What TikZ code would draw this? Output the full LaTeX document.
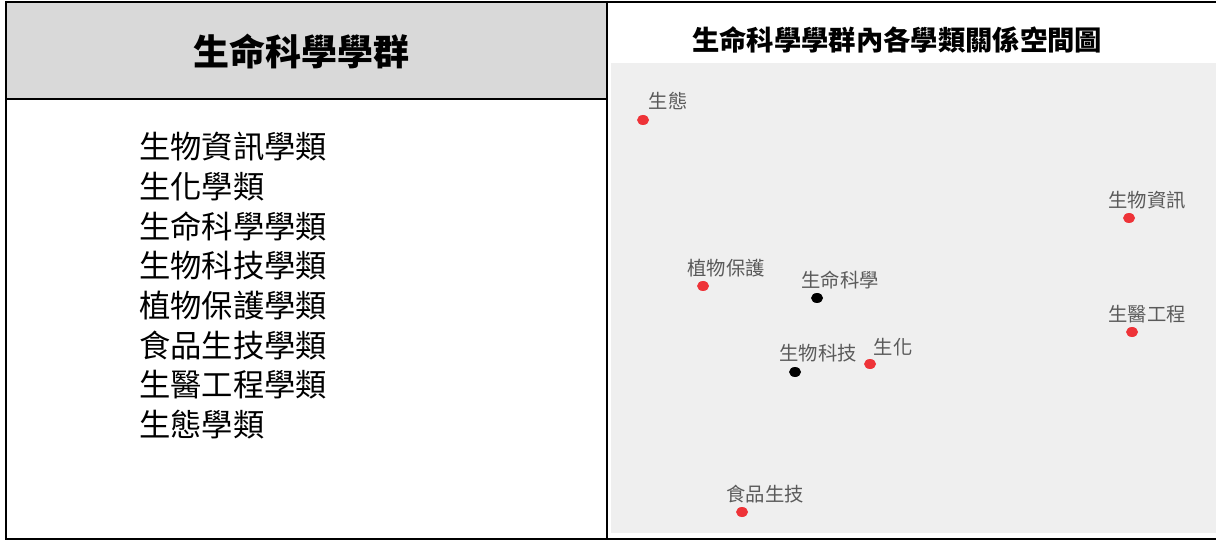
\documentclass[tikz,border=0pt]{standalone}
\usepackage{fontspec}
\newfontfamily\cjk{Noto Sans CJK TC}
\definecolor{hdrgray}{HTML}{D9D9D9}
\definecolor{plotgray}{HTML}{EFEFEF}
\definecolor{dotred}{HTML}{EE3338}
\definecolor{lblgray}{HTML}{5A5A5A}
\tikzset{
  reddot/.style={ellipse, fill=dotred, inner sep=0pt, minimum width=9pt, minimum height=7.5pt},
  blackdot/.style={reddot, fill=black},
  lbl/.style={font=\cjk\fontsize{14.5}{16}\selectfont, text=lblgray, inner sep=0pt},
  listitem/.style={font=\cjk\fontsize{23.5}{26}\selectfont, anchor=west, inner sep=0pt},
  frame/.style={line width=1.6pt, draw=black}
}
\usetikzlibrary{shapes.geometric}
\begin{document}
\begin{tikzpicture}[x=0.75pt,y=-0.75pt]
\useasboundingbox (0,0) rectangle (1216,541);
\fill[white] (0,0) rectangle (1216,541);
% header fill
\fill[hdrgray] (7,2) rectangle (607,99);
% plot area
\fill[plotgray] (611,63) rectangle (1216,533);
% frame lines
\draw[frame] (6,2) -- (1216,2);
\draw[frame] (6,1) -- (6,540);
\draw[frame] (6,539) -- (1216,539);
\draw[frame] (607,1) -- (607,540);
\draw[frame] (6,99) -- (607,99);
% header
\node[font=\cjk\bfseries\fontsize{27}{30}\selectfont, inner sep=0pt] (hdr) at (301,52) {生命科學學群};
% list
\node[listitem] (l1) at (139,147) {生物資訊學類};
\node[listitem] (l2) at (139,187) {生化學類};
\node[listitem] (l3) at (139,226) {生命科學學類};
\node[listitem] (l4) at (139,266) {生物科技學類};
\node[listitem] (l5) at (139,306) {植物保護學類};
\node[listitem] (l6) at (139,346) {食品生技學類};
\node[listitem] (l7) at (139,385) {生醫工程學類};
\node[listitem] (l8) at (139,425) {生態學類};
% title
\node[font=\cjk\bfseries\fontsize{20.5}{24}\selectfont, inner sep=0pt] (title) at (897,40) {生命科學學群內各學類關係空間圖};
% points
\node[reddot] (d1) at (643,120) {};
\node[lbl] (t1) at (668,101) {生態};
\node[reddot] (d2) at (1129,218) {};
\node[lbl] (t2) at (1147,200) {生物資訊};
\node[reddot] (d3) at (703,286) {};
\node[lbl] (t3) at (726,268) {植物保護};
\node[blackdot] (d4) at (817,298) {};
\node[lbl] (t4) at (840,280) {生命科學};
\node[reddot] (d5) at (1132,332) {};
\node[lbl] (t5) at (1147,314) {生醫工程};
\node[reddot] (d6) at (870,364) {};
\node[lbl] (t6) at (893,347) {生化};
\node[blackdot] (d7) at (795,372) {};
\node[lbl] (t7) at (818,353) {生物科技};
\node[reddot] (d8) at (742,512) {};
\node[lbl] (t8) at (765,494) {食品生技};
\end{tikzpicture}
\end{document}
